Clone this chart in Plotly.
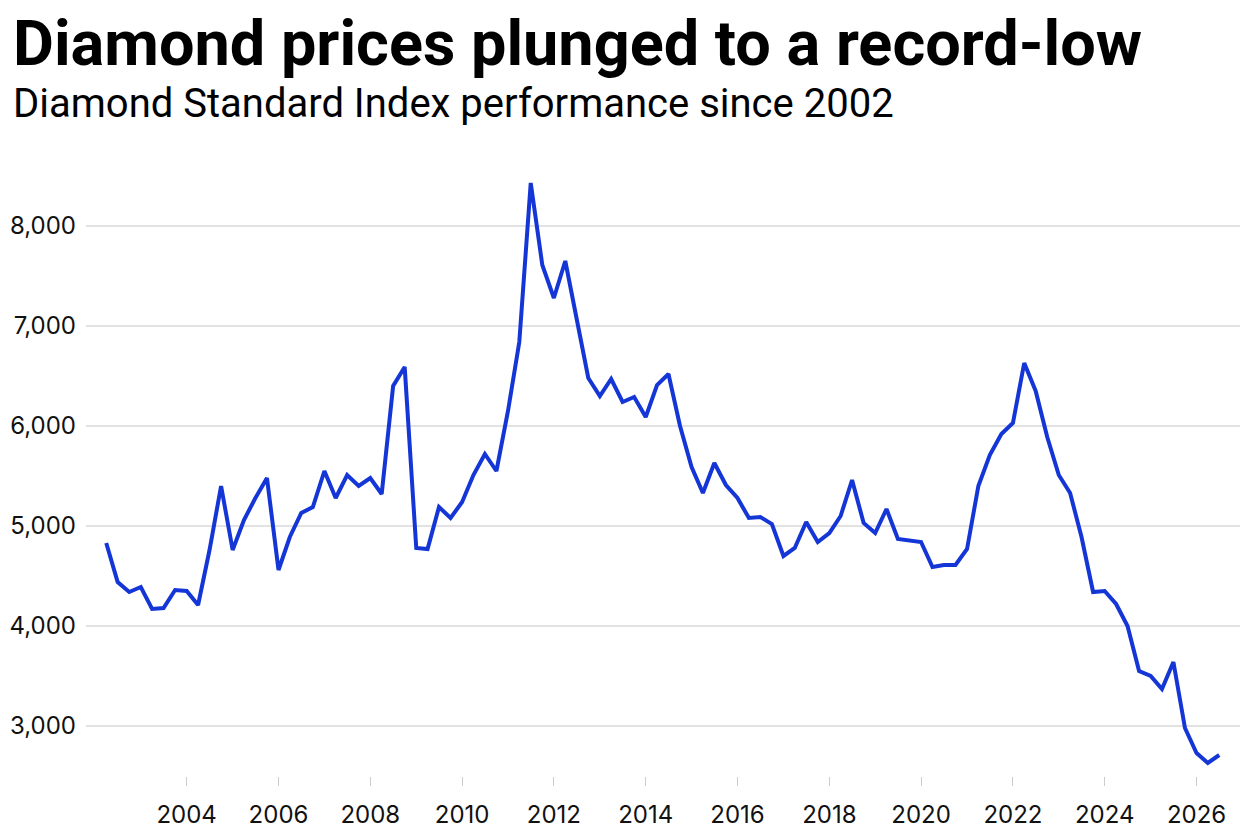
import pandas as pd
import plotly.graph_objects as go

# quarterly readings of the Diamond Standard Index
quarters = pd.date_range("2002-04-01", periods=98, freq="QS")
index_values = [
    4830, 4440, 4340, 4390, 4170, 4180, 4360, 4350, 4210, 4760,
    5400, 4760, 5060, 5280, 5480, 4560, 4890, 5130, 5190, 5550,
    5280, 5510, 5400, 5480, 5320, 6400, 6590, 4780, 4770, 5190,
    5080, 5240, 5510, 5720, 5550, 6150, 6840, 8430, 7610, 7280,
    7650, 7050, 6480, 6300, 6470, 6240, 6290, 6090, 6410, 6520,
    6000, 5590, 5330, 5630, 5410, 5280, 5080, 5090, 5020, 4700,
    4780, 5040, 4840, 4930, 5100, 5460, 5030, 4930, 5170, 4870,
    4850, 4840, 4590, 4610, 4610, 4770, 5400, 5710, 5920, 6030,
    6630, 6350, 5890, 5510, 5330, 4890, 4340, 4350, 4220, 4000,
    3550, 3500, 3370, 3640, 2980, 2730, 2630, 2710,
]
y_ticks = [3000, 4000, 5000, 6000, 7000, 8000]
x_ticks = [f"{yr}-01-01" for yr in range(2004, 2027, 2)]
x_labels = [str(yr) for yr in range(2004, 2027, 2)]

fig = go.Figure()
fig.add_trace(go.Scatter(x=quarters, y=index_values, mode="lines",
                         line=dict(color="#1536d6", width=4), showlegend=False))

# the page body shifts the figure 8px right and down, margins allow for that
fig.update_layout(
    width=1248, height=836,
    margin=dict(l=78, r=16, t=163, b=68),
    paper_bgcolor="white", plot_bgcolor="white",
    font=dict(family="Inter", color="#111111"),
)
fig.update_xaxes(
    range=["2001-10-22", "2026-12-13"],
    tickvals=x_ticks, ticktext=x_labels,
    ticks="outside", ticklen=9, tickwidth=1, tickcolor="#cccccc",
    ticklabelstandoff=8, automargin=False,
    showgrid=False, zeroline=False, showline=False,
    tickfont=dict(size=24),
)
fig.update_yaxes(
    range=[2500, 8550], tickvals=y_ticks, tickformat=",",
    showgrid=True, gridcolor="#e2e2e2", gridwidth=1.5,
    zeroline=False, showline=False, ticks="",
    ticklabelstandoff=9, automargin=False,
    tickfont=dict(size=24),
)

fig.add_annotation(text="Diamond prices plunged to a record-low",
                   xref="paper", yref="paper", x=-75 / 1154, y=1 + 89 / 605,
                   xanchor="left", yanchor="bottom", showarrow=False,
                   font=dict(family="Roboto", size=63, weight=700, color="#000000"))
fig.add_annotation(text="Diamond Standard Index performance since 2002",
                   xref="paper", yref="paper", x=-75 / 1154, y=1 + 42 / 605,
                   xanchor="left", yanchor="bottom", showarrow=False,
                   font=dict(family="Roboto", size=40, color="#000000"))

fig.write_html("out.html")
